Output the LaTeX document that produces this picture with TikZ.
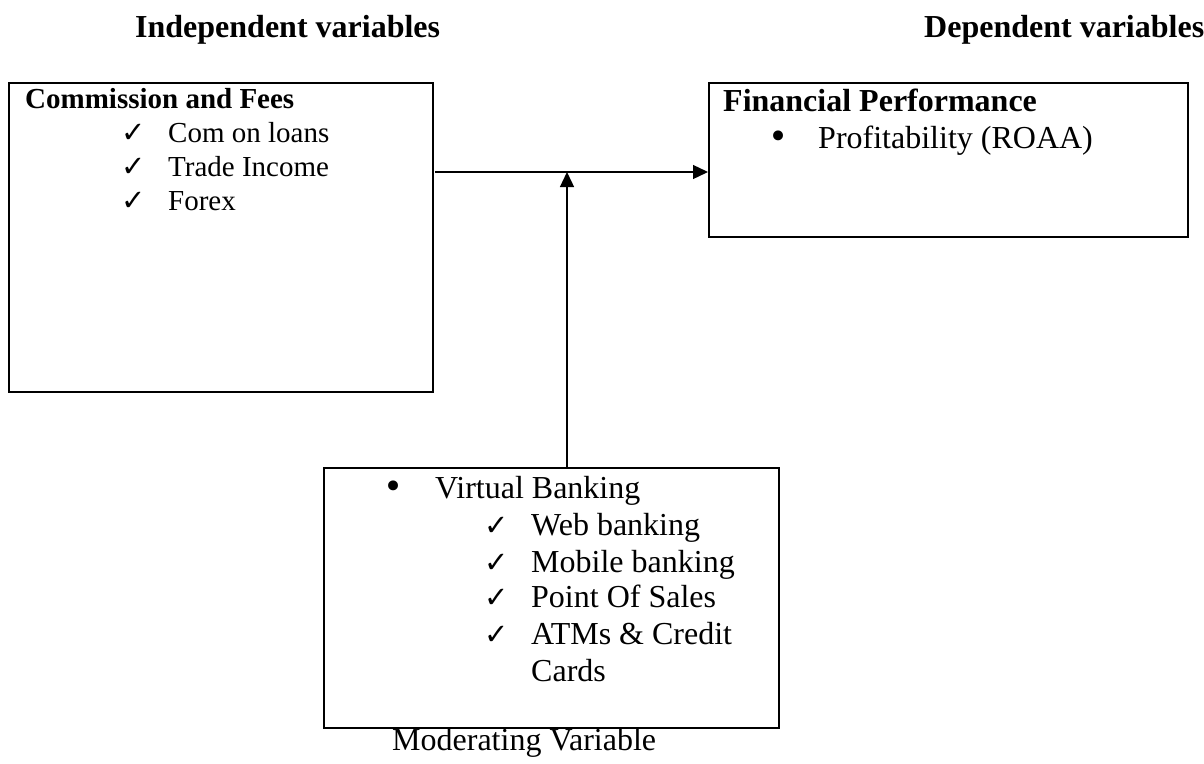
\documentclass[tikz,border=0pt]{standalone}
\usepackage{fontspec}
\setmainfont{Liberation Serif}
\newfontfamily\symfont{DejaVu Sans}
\usetikzlibrary{arrows.meta}
\tikzset{
  box/.style={draw, line width=2.2pt, anchor=north west, inner sep=0pt},
  arr/.style={line width=1.3pt, -{Triangle[length=15pt,width=14pt]}},
  txt/.style={anchor=base west, inner sep=0pt, font=\fontsize{32}{36}\selectfont},
  smalltxt/.style={anchor=base west, inner sep=0pt, font=\fontsize{29}{34}\selectfont},
  hdr/.style={anchor=base west, inner sep=0pt, font=\fontsize{32}{36}\selectfont\bfseries},
  chk/.style={anchor=base west, inner sep=0pt, font=\symfont\fontsize{29}{32}\selectfont},
  bul/.style={anchor=base west, inner sep=0pt, font=\symfont\fontsize{34}{36}\selectfont},
}
\begin{document}
\begin{tikzpicture}[x=1pt,y=-1pt]
\useasboundingbox (0,0) rectangle (1204,763);
% headers
\node[hdr] (h1) at (135,37) {Independent variables};
\node[hdr] (h2) at (924,37) {Dependent variables};
% boxes
\node[box, minimum width=424pt, minimum height=309pt] (lb) at (8,82) {};
\node[box, minimum width=479pt, minimum height=154pt] (rb) at (708,82) {};
\node[box, minimum width=455pt, minimum height=260pt] (mb) at (323,467) {};
% left box text
\node[smalltxt, font=\fontsize{29}{34}\selectfont\bfseries] (lt) at (25,108) {Commission and Fees};
\node[chk] (lc1) at (121,142) {✓};
\node[chk] (lc2) at (121,176) {✓};
\node[chk] (lc3) at (121,210) {✓};
\node[smalltxt] (l1) at (168,142) {Com on loans};
\node[smalltxt] (l2) at (168,176) {Trade Income};
\node[smalltxt] (l3) at (168,210) {Forex};
% right box text
\node[hdr] (rt) at (723,111) {Financial Performance};
\node[bul] (rbul) at (768,148) {•};
\node[txt] (r1) at (818,148) {Profitability (ROAA)};
% moderating box text
\node[bul] (mbul) at (383,498) {•};
\node[txt] (m0) at (435,498) {Virtual Banking};
\node[chk] (mc1) at (484,535) {✓};
\node[chk] (mc2) at (484,572) {✓};
\node[chk] (mc3) at (484,607) {✓};
\node[chk] (mc4) at (484,644) {✓};
\node[txt] (m1) at (531,535) {Web banking};
\node[txt] (m2) at (531,572) {Mobile banking};
\node[txt] (m3) at (531,607) {Point Of Sales};
\node[txt] (m4) at (531,644) {ATMs \& Credit};
\node[txt] (m5) at (531,681) {Cards};
\node[txt] (ml) at (392,750) {Moderating Variable};
% connectors
\coordinate (hs) at (435,172);
\coordinate (vs) at (567,467);
\draw[arr] (hs) -- (hs -| rb.west);
\draw[arr] (vs) -- (vs |- hs);
\end{tikzpicture}
\end{document}
